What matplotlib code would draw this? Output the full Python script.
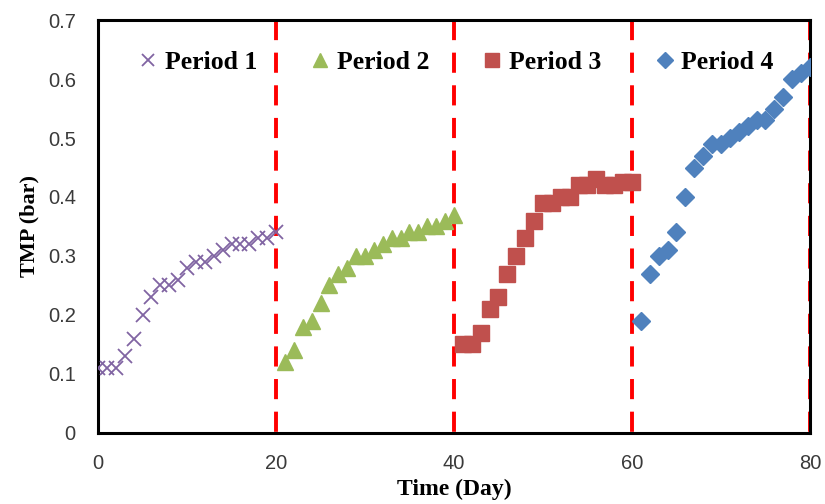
import matplotlib
matplotlib.use('Agg')
import matplotlib.pyplot as plt

# Period data
days_p1 = list(range(0, 21))
tmp_p1 = [0.11, 0.11, 0.11, 0.13, 0.16, 0.20, 0.23, 0.25, 0.25, 0.26, 0.28,
          0.29, 0.29, 0.30, 0.31, 0.32, 0.32, 0.32, 0.33, 0.33, 0.34]

days_p2 = list(range(21, 41))
tmp_p2 = [0.12, 0.14, 0.18, 0.19, 0.22, 0.25, 0.27, 0.28, 0.30, 0.30,
          0.31, 0.32, 0.33, 0.33, 0.34, 0.34, 0.35, 0.35, 0.36, 0.37]

days_p3 = list(range(41, 61))
tmp_p3 = [0.15, 0.15, 0.17, 0.21, 0.23, 0.27, 0.30, 0.33, 0.36, 0.39,
          0.39, 0.40, 0.40, 0.42, 0.42, 0.43, 0.42, 0.42, 0.425, 0.425]

days_p4 = list(range(61, 81))
tmp_p4 = [0.19, 0.27, 0.30, 0.31, 0.34, 0.40, 0.45, 0.47, 0.49, 0.49,
          0.50, 0.51, 0.52, 0.53, 0.53, 0.55, 0.57, 0.60, 0.61, 0.62]

period_bounds = [20, 40, 60, 80]
period_labels = ['Period 1', 'Period 2', 'Period 3', 'Period 4']
x_ticks = [0, 20, 40, 60, 80]
y_ticks = [0, 0.1, 0.2, 0.3, 0.4, 0.5, 0.6, 0.7]

plt.rcParams['lines.scale_dashes'] = False

fig = plt.figure(figsize=(8.25, 5.04), dpi=100)
ax = fig.add_axes([0.1188, 0.1409, 0.8630, 0.8194])

for b in period_bounds:
    ax.plot([b, b], [0.7, 0], color='#FF0000', linewidth=2.8,
            dashes=(14.5, 9.0), zorder=1)

ax.plot(days_p1, tmp_p1, linestyle='none', marker='x', markersize=10.5,
        markeredgewidth=1.3, color='#8064A2', label=period_labels[0], zorder=3)
ax.plot(days_p2, tmp_p2, linestyle='none', marker='^', markersize=12,
        color='#9BBB59', markeredgecolor='#9BBB59', label=period_labels[1], zorder=3)
ax.plot(days_p3, tmp_p3, linestyle='none', marker='s', markersize=12,
        color='#C0504D', markeredgecolor='#C0504D', label=period_labels[2], zorder=3)
ax.plot(days_p4, tmp_p4, linestyle='none', marker='D', markersize=9.5,
        color='#4F81BD', markeredgecolor='#4F81BD', label=period_labels[3], zorder=3)

ax.set_xlim(0, 80)
ax.set_ylim(0, 0.7)
ax.set_xticks(x_ticks)
ax.set_yticks(y_ticks)
ax.set_yticklabels(['0' if v == 0 else f'{v:.1f}' for v in y_ticks])
ax.tick_params(length=0, labelsize=14.5, labelcolor='#3a3a3a')
ax.tick_params(axis='x', pad=15)
ax.tick_params(axis='y', pad=16)
for lab in ax.get_xticklabels() + ax.get_yticklabels():
    lab.set_family('Liberation Sans')

for sp in ax.spines.values():
    sp.set_linewidth(2.2)
    sp.set_color('black')

ax.set_xlabel('Time (Day)', family='Liberation Serif', fontweight='bold',
              fontsize=17, labelpad=4)
ax.set_ylabel('TMP (bar)', family='Liberation Serif', fontweight='bold',
              fontsize=16, labelpad=6)

leg = ax.legend(ncol=4, loc='upper left', bbox_to_anchor=(0.0165, 0.98),
                frameon=False, handletextpad=0.05, columnspacing=1.85,
                handlelength=1.2, markerscale=0.85,
                prop={'family': 'Liberation Serif', 'weight': 'bold', 'size': 18.5})

fig.savefig('out.png', dpi=100)
